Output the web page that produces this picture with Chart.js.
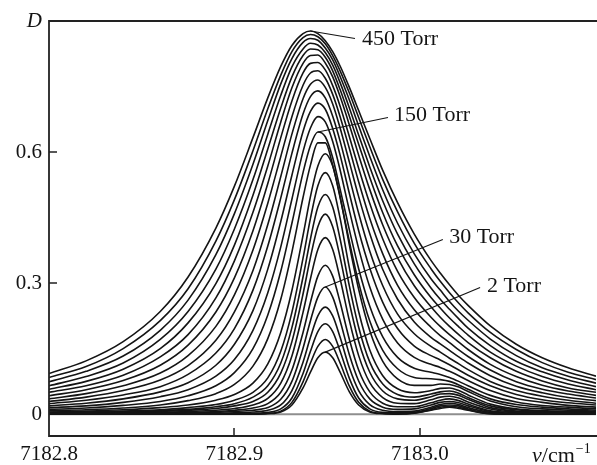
<!DOCTYPE html>
<html lang="en">
<head>
    <meta charset="UTF-8">
    <title>Absorbance vs pressure</title>
    <script src="https://cdn.jsdelivr.net/npm/chart.js"></script>
    <style>
        body { margin: 0; background: #fff; }
        canvas { display: block; }
    </style>
</head>
<body>
    <canvas id="spectrum" width="597" height="465"></canvas>

    <script>
        // wavenumber grid, cm-1 (denser near the line centre)
        const wavenumber = [7182.800, 7182.820, 7182.840, 7182.860, 7182.875, 7182.890, 7182.900, 7182.910,
            7182.918, 7182.925, 7182.931, 7182.937, 7182.941, 7182.945, 7182.949, 7182.953, 7182.957,
            7182.962, 7182.967, 7182.973, 7182.980, 7182.988, 7182.997, 7183.006, 7183.011, 7183.016,
            7183.021, 7183.026, 7183.038, 7183.052, 7183.066, 7183.080, 7183.095];

        // optical density D, one array per pressure (Torr)
        const d2   = [0,0,0,0,0,0,0,0,.001,.005,.021,.060,.096,.129,.142,.129,.096,.051,.021,.005,.001,0,.002,.009,.013,.016,.013,.009,.001,0,0,0,0];
        const d5   = [0,0,0,0,0,0,.001,.001,.002,.007,.027,.074,.117,.155,.171,.155,.117,.064,.027,.007,.002,.001,.003,.010,.016,.018,.016,.010,.001,0,0,0,0];
        const d10  = [0,0,0,0,.001,.001,.001,.002,.004,.012,.037,.093,.144,.189,.207,.189,.144,.082,.037,.012,.004,.003,.004,.013,.019,.021,.019,.012,.002,.001,0,0,0];
        const d20  = [0,0,.001,.001,.001,.002,.003,.005,.009,.021,.054,.119,.176,.225,.245,.225,.176,.106,.054,.022,.009,.006,.007,.016,.022,.025,.022,.015,.004,.001,.001,.001,0];
        const d30  = [.001,.001,.001,.002,.003,.004,.006,.009,.015,.034,.075,.151,.214,.268,.291,.268,.214,.136,.076,.035,.016,.011,.012,.021,.027,.029,.026,.019,.006,.002,.002,.001,.001];
        const d40  = [.001,.001,.002,.003,.004,.006,.009,.014,.024,.050,.101,.187,.256,.316,.341,.316,.256,.171,.101,.051,.025,.017,.017,.026,.032,.035,.031,.023,.008,.004,.002,.002,.001];
        const d50  = [.002,.002,.003,.004,.006,.009,.013,.021,.036,.071,.133,.233,.310,.377,.404,.377,.310,.214,.134,.072,.038,.025,.024,.033,.039,.041,.037,.028,.012,.005,.004,.003,.002];
        const d60  = [.002,.003,.004,.006,.009,.013,.019,.029,.050,.094,.166,.275,.359,.429,.458,.429,.359,.255,.167,.096,.053,.035,.032,.040,.046,.047,.043,.034,.015,.007,.005,.004,.003];
        const d70  = [.003,.004,.005,.008,.011,.017,.024,.039,.065,.117,.198,.314,.401,.474,.503,.474,.401,.293,.199,.119,.069,.045,.039,.046,.051,.053,.048,.038,.019,.010,.006,.005,.004];
        const d80  = [.004,.005,.007,.010,.015,.022,.032,.050,.083,.144,.233,.357,.448,.523,.553,.523,.448,.335,.235,.147,.088,.058,.049,.054,.059,.060,.054,.044,.023,.012,.008,.006,.005];
        const d100 = [.005,.007,.010,.015,.021,.032,.045,.071,.115,.187,.283,.409,.498,.568,.596,.568,.498,.387,.286,.191,.121,.081,.066,.066,.069,.068,.062,.052,.030,.017,.012,.009,.007];
        const d125 = [.008,.010,.014,.021,.031,.047,.068,.110,.173,.263,.371,.496,.570,.621,.621,.570,.496,.395,.301,.213,.146,.104,.084,.081,.079,.075,.067,.057,.035,.022,.016,.012,.009];
        const d150 = [.011,.014,.020,.029,.042,.065,.095,.150,.227,.327,.437,.553,.615,.646,.635,.587,.515,.422,.333,.247,.177,.130,.105,.096,.091,.084,.075,.065,.043,.028,.020,.016,.012];
        const d175 = [.015,.019,.027,.040,.056,.087,.125,.192,.278,.383,.492,.601,.655,.681,.669,.624,.559,.466,.379,.291,.217,.163,.130,.114,.107,.098,.088,.077,.054,.036,.027,.020,.016];
        const d200 = [.019,.025,.035,.051,.072,.112,.160,.237,.332,.441,.547,.647,.693,.712,.698,.654,.593,.505,.420,.334,.256,.196,.156,.134,.124,.113,.101,.089,.065,.045,.033,.026,.021];
        const d225 = [.024,.032,.044,.063,.091,.140,.196,.284,.385,.495,.597,.687,.727,.740,.724,.682,.625,.542,.460,.373,.294,.229,.184,.155,.142,.128,.115,.102,.075,.054,.041,.032,.025];
        const d250 = [.029,.039,.054,.078,.111,.169,.234,.329,.434,.544,.641,.722,.755,.765,.748,.710,.655,.577,.498,.413,.331,.263,.211,.176,.161,.146,.131,.117,.088,.064,.049,.038,.031];
        const d275 = [.035,.047,.065,.094,.134,.201,.273,.376,.483,.590,.681,.753,.781,.786,.769,.732,.681,.608,.532,.448,.367,.295,.239,.199,.180,.164,.147,.132,.101,.074,.057,.046,.037];
        const d300 = [.042,.056,.077,.112,.158,.234,.312,.420,.528,.633,.717,.781,.803,.805,.788,.752,.705,.635,.563,.482,.401,.327,.267,.222,.201,.182,.165,.148,.114,.086,.066,.053,.043];
        const d325 = [.050,.065,.089,.131,.182,.266,.351,.462,.568,.669,.747,.803,.821,.822,.804,.772,.727,.662,.593,.514,.433,.358,.294,.246,.222,.201,.182,.164,.129,.098,.076,.060,.050];
        const d350 = [.057,.075,.103,.150,.209,.299,.387,.501,.607,.701,.772,.821,.836,.834,.817,.786,.743,.682,.618,.542,.461,.385,.319,.267,.243,.220,.200,.181,.142,.110,.086,.069,.056];
        const d375 = [.065,.086,.117,.171,.235,.332,.424,.537,.641,.730,.795,.836,.849,.845,.828,.799,.759,.701,.639,.566,.488,.412,.344,.289,.263,.240,.218,.197,.157,.121,.097,.078,.063];
        const d400 = [.074,.098,.133,.192,.261,.365,.459,.572,.672,.756,.814,.851,.860,.856,.838,.811,.773,.719,.660,.590,.513,.437,.367,.310,.284,.258,.235,.215,.172,.134,.106,.087,.071];
        const d425 = [.084,.109,.150,.214,.287,.396,.491,.603,.699,.776,.830,.862,.869,.864,.848,.821,.786,.735,.679,.612,.537,.463,.391,.333,.304,.278,.254,.232,.187,.148,.118,.096,.079];
        const d450 = [.093,.122,.166,.235,.314,.426,.522,.633,.724,.796,.844,.871,.877,.871,.855,.830,.797,.748,.695,.631,.558,.484,.412,.352,.323,.296,.271,.249,.202,.160,.129,.106,.087];

        const pressures = [2, 5, 10, 20, 30, 40, 50, 60, 70, 80, 100, 125, 150, 175, 200, 225, 250, 275, 300, 325, 350, 375, 400, 425, 450];
        const curves = [d2, d5, d10, d20, d30, d40, d50, d60, d70, d80, d100, d125, d150, d175, d200, d225, d250, d275, d300, d325, d350, d375, d400, d425, d450];

        const xTicks = [7182.8, 7182.9, 7183.0];
        const yTicks = [0, 0.3, 0.6, 0.9];
        const labelledPressures = [450, 150, 30, 2];

        const serif = "'Liberation Serif', 'Times New Roman', serif";
        const ink = '#141414';

        // where the callout text sits (data coordinates)
        const callouts = [
            { endX: 7182.9650, endY: 0.860, textX: 7182.9688, textY: 0.859 },
            { endX: 7182.9828, endY: 0.679, textX: 7182.9861, textY: 0.685 },
            { endX: 7183.0124, endY: 0.400, textX: 7183.0158, textY: 0.406 },
            { endX: 7183.0325, endY: 0.290, textX: 7183.0362, textY: 0.292 }
        ];

        const datasets = curves.map((vals, k) => ({
            label: pressures[k] + ' Torr',
            data: wavenumber.map((w, i) => ({ x: w, y: vals[i] })),
            borderColor: ink,
            borderWidth: 1.6,
            pointRadius: 0,
            fill: false,
            cubicInterpolationMode: 'monotone'
        }));

        const decorations = {
            id: 'decorations',
            beforeDatasetsDraw(chart) {
                const { ctx, chartArea: a, scales: { y } } = chart;
                const y0 = y.getPixelForValue(0);
                ctx.save();
                ctx.strokeStyle = '#8e8e8e';
                ctx.lineWidth = 2;
                ctx.beginPath();
                ctx.moveTo(a.left, y0);
                ctx.lineTo(a.right, y0);
                ctx.stroke();
                ctx.restore();
            },
            afterDatasetsDraw(chart) {
                const { ctx, chartArea: a, scales: { x, y } } = chart;
                ctx.save();

                // frame: left, top, bottom
                ctx.strokeStyle = '#222';
                ctx.lineWidth = 1.8;
                ctx.beginPath();
                ctx.moveTo(chart.width, a.top);
                ctx.lineTo(a.left, a.top);
                ctx.lineTo(a.left, a.bottom);
                ctx.lineTo(chart.width, a.bottom);
                ctx.stroke();

                // inward tick marks
                ctx.lineWidth = 1.5;
                ctx.beginPath();
                yTicks.slice(1, -1).forEach(v => {
                    const py = Math.round(y.getPixelForValue(v));
                    ctx.moveTo(a.left, py);
                    ctx.lineTo(a.left + 8, py);
                });
                xTicks.slice(1).forEach(v => {
                    const px = Math.round(x.getPixelForValue(v));
                    ctx.moveTo(px, a.bottom);
                    ctx.lineTo(px, a.bottom - 8);
                });
                ctx.stroke();

                // callouts from the curve apex to the label
                ctx.lineWidth = 1.1;
                ctx.strokeStyle = ink;
                ctx.fillStyle = ink;
                ctx.font = '22px ' + serif;
                ctx.textBaseline = 'middle';
                ctx.textAlign = 'left';
                labelledPressures.forEach((p, k) => {
                    const vals = curves[pressures.indexOf(p)];
                    const top = Math.max(...vals);
                    const i = vals.indexOf(top);
                    const c = callouts[k];
                    ctx.beginPath();
                    ctx.moveTo(x.getPixelForValue(wavenumber[i]), y.getPixelForValue(top));
                    ctx.lineTo(x.getPixelForValue(c.endX), y.getPixelForValue(c.endY));
                    ctx.stroke();
                    ctx.fillText(p + ' Torr', x.getPixelForValue(c.textX), y.getPixelForValue(c.textY));
                });

                // axis title  v/cm-1
                let tx = a.right - 64;
                const ty = 456;
                ctx.font = 'italic 22px ' + serif;
                ctx.fillText('\u03bd', tx, ty);
                tx += ctx.measureText('\u03bd').width;
                ctx.font = '22px ' + serif;
                ctx.fillText('/cm', tx, ty);
                tx += ctx.measureText('/cm').width;
                ctx.font = '14px ' + serif;
                ctx.fillText('\u22121', tx + 1, ty - 7);

                ctx.restore();
            }
        };

        new Chart(document.getElementById('spectrum'), {
            type: 'line',
            data: { datasets },
            options: {
                responsive: false,
                animation: false,
                devicePixelRatio: 1,
                layout: { padding: { top: 21, right: 1, left: 0, bottom: 0 } },
                plugins: { legend: { display: false }, tooltip: { enabled: false } },
                scales: {
                    x: {
                        type: 'linear',
                        min: 7182.8,
                        max: 7183.095,
                        afterBuildTicks: s => { s.ticks = xTicks.map(v => ({ value: v })); },
                        afterFit: s => { s.height = 29; },
                        grid: { display: false, drawTicks: false },
                        border: { display: false },
                        ticks: {
                            autoSkip: false,
                            maxRotation: 0,
                            padding: 6,
                            color: ink,
                            font: { family: serif, size: 21 },
                            callback: v => v.toFixed(1)
                        }
                    },
                    y: {
                        min: -0.05,
                        max: 0.9,
                        afterBuildTicks: s => { s.ticks = yTicks.map(v => ({ value: v })); },
                        afterFit: s => { s.width = 49; },
                        grid: { display: false, drawTicks: false },
                        border: { display: false },
                        ticks: {
                            padding: 7,
                            color: ink,
                            font: ctx => ({
                                family: serif,
                                size: 21,
                                style: ctx.tick && ctx.tick.value === 0.9 ? 'italic' : 'normal'
                            }),
                            callback: v => (v === 0.9 ? 'D' : String(v))
                        }
                    }
                }
            },
            plugins: [decorations]
        });
    </script>
</body>
</html>
